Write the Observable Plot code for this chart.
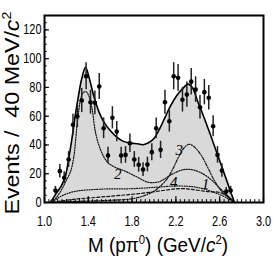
<!DOCTYPE html>
<html><head><meta charset="utf-8">
<script src="https://cdn.jsdelivr.net/npm/d3@7"></script>
<script src="https://cdn.jsdelivr.net/npm/@observablehq/plot@0.6"></script>
<style>
html,body{margin:0;padding:0;background:#fff;}
#chart svg{display:block;}
</style></head><body><div id="chart"></div>
<script>
// ---- data: 40 MeV bins, M(p pi0) in GeV/c^2 ----
const binCenters = [1.10,1.14,1.18,1.22,1.26,1.30,1.34,1.38,1.42,1.46,1.50,1.54,1.58,1.62,1.66,1.70,1.74,1.78,1.82,1.86,1.90,1.94,1.98,2.02,2.06,2.10,2.14,2.18,2.22,2.26,2.30,2.34,2.38,2.42,2.46,2.50,2.54,2.58,2.62,2.66,2.70];
const counts     = [8.3,21.8,17.2,29.9,54,59.8,70.9,87.8,69.7,69.3,80.6,51.6,32.7,58.9,49.3,32.7,33.1,41.2,29.9,26.2,22.9,26.4,35,51.6,36.6,69.7,56.5,87.8,86.7,71.4,75,84,78.5,66.2,76.7,72.8,53,33.1,22.2,7.6,8.3];
const errors     = [2.9,4.7,4.2,5.5,7.3,7.7,8.4,9.4,8.3,8.3,9.0,7.2,5.7,7.7,7.0,5.7,5.8,6.4,5.5,5.1,4.8,5.1,5.9,7.2,6.0,8.3,7.5,9.4,9.3,8.5,8.7,9.2,8.9,8.1,8.8,8.5,7.3,5.8,4.7,2.8,2.9];

// total fit (solid, shaded)
const totalM = [1.05,1.08,1.10,1.15,1.19,1.22,1.25,1.28,1.31,1.34,1.375,1.41,1.45,1.50,1.55,1.60,1.66,1.72,1.79,1.85,1.90,1.95,2.00,2.05,2.10,2.15,2.21,2.26,2.31,2.35,2.40,2.45,2.52,2.60,2.67,2.70,2.735];
const totalV = [0,3,5.5,11,18,30,44,60,74,86,94,86,74,62.5,55,50,45.5,42.5,41.3,40.8,40.2,41.5,44.5,51,59,67,74.5,79,82.3,80,70,60.5,46,29,14,7.5,0];

// component 2 (dotted)
const comp2M = [1.07,1.10,1.15,1.19,1.24,1.27,1.285,1.30,1.315,1.33,1.355,1.38,1.405,1.435,1.465,1.51,1.57,1.63,1.73,1.85,1.95,2.05,2.15,2.25,2.33,2.42,2.52,2.60,2.67,2.735];
const comp2V = [0,2.6,8,14,22,33,44,56,65,72,76.5,77,74,65,49,37,28.5,25,22,17.5,14,14.5,19,22.5,23,21,16,10,5,0];

// component 3 (dash-dot)
const comp3M = [1.07,1.3,1.6,1.8,1.92,2.03,2.12,2.17,2.22,2.27,2.32,2.37,2.43,2.49,2.55,2.61,2.67,2.735];
const comp3V = [0,0.8,1.5,2.6,5,9.5,16.5,23,31,37.5,40.5,38.5,33,24.5,15.5,8.5,4,0];

// component 1 (dotted)
const comp1M = [1.07,1.12,1.20,1.30,1.45,1.60,1.75,1.90,2.05,2.20,2.35,2.45,2.55,2.63,2.69,2.735];
const comp1V = [0,3,6,8,9,9.5,9.5,10,10.8,11.5,11,9.5,7,4.5,2,0];

// component 4 (dashed)
const comp4M = [1.07,1.15,1.30,1.50,1.70,1.90,2.05,2.20,2.30,2.40,2.50,2.60,2.68,2.735];
const comp4V = [0,1,2.5,3.7,5,6.5,8,9.5,9.5,8.5,7.5,7,4,0];

// curve labels
const labelText = ["1","2","3","4"];
const labelM    = [2.47,1.67,2.23,2.18];
const labelV    = [13,20,36.6,14];

// axis ticks
const xTickLabels = [1.0,1.4,1.8,2.2,2.6,3.0];
const yTickLabels = [0,20,40,60,80,100,120];
const xMinor = d3.range(1.04, 3.0, 0.04);
const yMinor = d3.range(5, 130, 5);

// ---- build rows ----
const rows = (ms, vs) => ms.map((m, i) => ({m, v: vs[i]}));
const pts = binCenters.map((m, i) => ({m, v: counts[i], e: errors[i]}));
const total = rows(totalM, totalV);
const c1 = rows(comp1M, comp1V), c2 = rows(comp2M, comp2V), c3 = rows(comp3M, comp3V), c4 = rows(comp4M, comp4V);
const labels = labelText.map((t, i) => ({t, m: labelM[i], v: labelV[i]}));

const xMin = 1.0;
const chart = Plot.plot({
  width: 273, height: 259,
  marginLeft: 44, marginRight: 10, marginTop: 15, marginBottom: 57,
  x: {domain: [1.0, 3.0]},
  y: {domain: [0, 130]},
  style: {fontFamily: "'Liberation Sans', Arial, sans-serif", background: "white", color: "black"},
  marks: [
    Plot.areaY(total, {x: "m", y: "v", fill: "#d9d9d9", curve: "catmull-rom"}),
    Plot.line(c4, {x: "m", y: "v", stroke: "#111", strokeWidth: 1.2, strokeDasharray: "3,2", curve: "catmull-rom"}),
    Plot.line(c1, {x: "m", y: "v", stroke: "#111", strokeWidth: 1.2, strokeDasharray: "1,1.5", curve: "catmull-rom"}),
    Plot.line(c3, {x: "m", y: "v", stroke: "#111", strokeWidth: 1.2, strokeDasharray: "3,1.5,1,1.5", curve: "catmull-rom"}),
    Plot.line(c2, {x: "m", y: "v", stroke: "#111", strokeWidth: 1.2, strokeDasharray: "1.2,1.4", curve: "catmull-rom"}),
    Plot.line(total, {x: "m", y: "v", stroke: "black", strokeWidth: 1.6, curve: "catmull-rom"}),
    Plot.ruleX(pts, {x: "m", y1: d => d.v - d.e, y2: d => d.v + d.e, stroke: "#222", strokeWidth: 1.5}),
    Plot.dot(pts, {x: "m", y: "v", r: 2.3, fill: "black", stroke: "none"}),
    Plot.text(labels, {x: "m", y: "v", text: "t", fontFamily: "'Liberation Serif', 'Times New Roman', serif", fontStyle: "italic", fontSize: 15, fill: "black"}),
    // inside ticks
    Plot.ruleX(xMinor, {x: d => d, y1: 0, y2: 2, stroke: "black", strokeWidth: 1}),
    Plot.ruleX(xTickLabels, {x: d => d, y1: 0, y2: 4, stroke: "black", strokeWidth: 1.2}),
    Plot.ruleY(yMinor, {y: d => d, x1: xMin, x2: xMin + 0.025, stroke: "black", strokeWidth: 1}),
    Plot.ruleY(yTickLabels, {y: d => d, x1: xMin, x2: xMin + 0.045, stroke: "black", strokeWidth: 1.2}),
    Plot.axisX({ticks: xTickLabels, tickSize: 0, tickPadding: 14, tickFormat: d3.format(".1f"), fontSize: 14, label: null}),
    Plot.axisY({ticks: yTickLabels, tickSize: 0, tickPadding: 3, fontSize: 14, label: null}),
    Plot.frame({stroke: "black", strokeWidth: 2})
  ]
});
document.getElementById("chart").appendChild(chart);

// condense tick labels (narrow Helvetica look): only append a scale to the existing transform
const svg = d3.select(chart);
svg.selectAll('g[aria-label="x-axis tick label"] text, g[aria-label="y-axis tick label"] text').each(function() {
  const el = d3.select(this);
  const tr = el.attr("transform");
  const xa = el.attr("x");
  if (tr && (xa === null || xa === "" || xa === "0")) {
    el.attr("transform", tr + " scale(0.78,1)");
  }
});

// axis titles with italic c and superscripts
const font = "'Liberation Sans', Arial, sans-serif";
const yl = svg.append("text")
  .attr("transform", "translate(19,113) rotate(-90)")
  .attr("text-anchor", "middle").attr("font-family", font).attr("font-size", 21)
  .attr("fill", "black").attr("textLength", 203).attr("lengthAdjust", "spacingAndGlyphs")
  .style("white-space", "pre");
yl.append("tspan").text("Events /  40 MeV/");
yl.append("tspan").attr("font-style", "italic").text("c");
yl.append("tspan").attr("font-size", 13).attr("dy", -8).text("2");

const xl = svg.append("text")
  .attr("x", 88).attr("y", 252).attr("text-anchor", "start")
  .attr("font-family", font).attr("font-size", 20)
  .attr("fill", "black").attr("textLength", 140).attr("lengthAdjust", "spacingAndGlyphs")
  .style("white-space", "pre");
xl.append("tspan").text("M (p\u03c0");
xl.append("tspan").attr("font-size", 12).attr("dy", -8).text("0");
xl.append("tspan").attr("dy", 8).text(") (GeV/");
xl.append("tspan").attr("font-style", "italic").text("c");
xl.append("tspan").attr("font-size", 12).attr("dy", -8).text("2");
xl.append("tspan").attr("dy", 8).text(")");
</script>
</body></html>
